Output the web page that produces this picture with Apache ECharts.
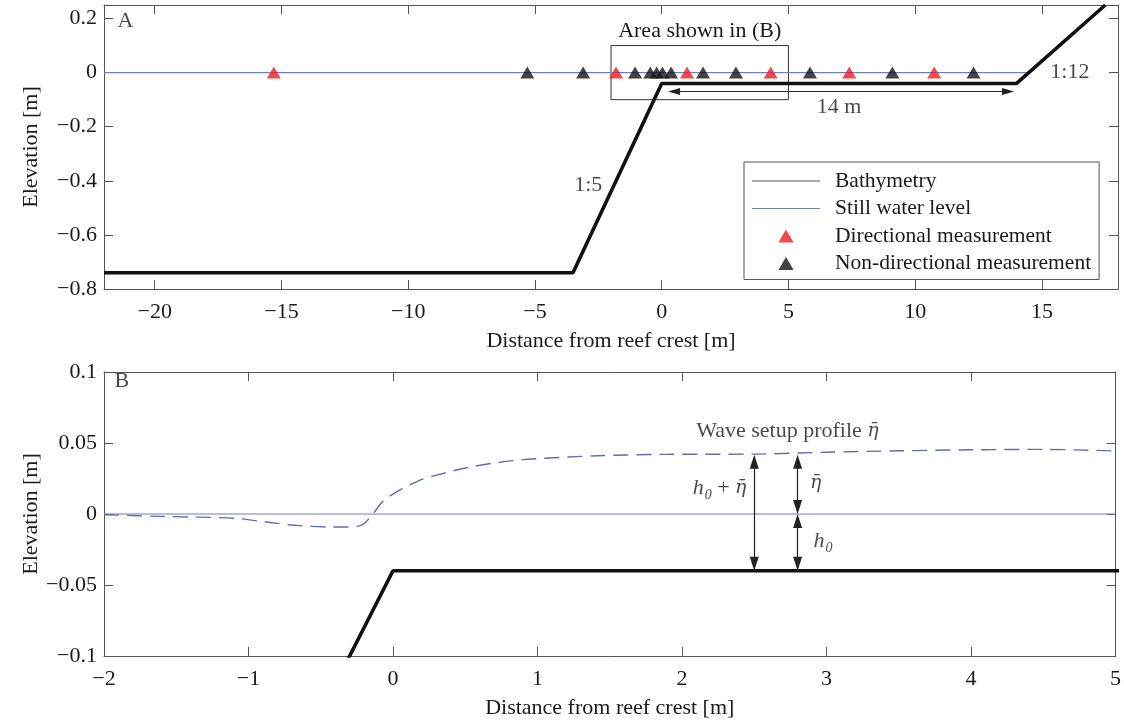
<!DOCTYPE html>
<html>
<head>
<meta charset="utf-8">
<script src="https://cdn.jsdelivr.net/npm/echarts@6/dist/echarts.min.js"></script>
<style>
html,body{margin:0;padding:0;background:#fff;}
#chart{width:1124px;height:720px;}
</style>
</head>
<body>
<div id="chart"></div>
<script>
// ---------- data ----------
const xTopTicks = [-20, -15, -10, -5, 0, 5, 10, 15];
const yTopTicks = [-0.8, -0.6, -0.4, -0.2, 0, 0.2];
const xBotTicks = [-2, -1, 0, 1, 2, 3, 4, 5];
const yBotTicks = [-0.1, -0.05, 0, 0.05, 0.1];

const bathyX = [-22, -3.5, 0, 14, 17.5];
const bathyY = [-0.74, -0.74, -0.04, -0.04, 0.25];

const swlTopX = [-22, 14.48];
const swlBotX = [-2, 5];

const directionalX = [-15.3, -1.8, 1.0, 4.3, 7.4, 10.75];
const nonDirectionalX = [-5.3, -3.1, -1.05, -0.45, -0.2, 0.03, 0.37, 1.63, 2.93, 5.85, 9.1, 12.3];

const setupX = [-2, -1.6, -1.1, -0.88, -0.65, -0.42, -0.3, -0.21, -0.14, -0.07, 0.04, 0.18, 0.27, 0.5, 0.73, 0.96, 1.42, 1.88, 2.5, 3.0, 3.5, 4.0, 4.5, 5.0];
const setupY = [-0.0005, -0.0017, -0.003, -0.0056, -0.0082, -0.0092, -0.0091, -0.0075, 0, 0.0089, 0.0165, 0.0235, 0.0265, 0.0324, 0.0363, 0.0387, 0.041, 0.042, 0.0422, 0.0435, 0.0445, 0.0452, 0.0455, 0.0444];

const h0 = -0.04;          // reef flat elevation
const etaAt = 0.0418;      // setup at arrows

// ---------- styling ----------
const FONT = 'Liberation Serif';
const FS = 22;
const AX = '#555';
const TXT = '#1a1a1a';
const BLUE = '#6f7fc2';
const DASH = '#5f6fae';

function fmt(v) {
  if (Math.abs(v) < 1e-9) return '0';
  const s = String(Math.abs(+(+v).toFixed(4)));
  return v < 0 ? '\u2212' + s : s;
}

function xAxisCfg(grid, min, max, ticks, pos, withLabels) {
  return {
    type: 'value', gridIndex: grid, min: min, max: max, position: pos,
    axisLine: {show: true, onZero: false, lineStyle: {color: AX, width: 1}},
    axisTick: {show: true, inside: true, length: 9, customValues: ticks, lineStyle: {color: AX}},
    axisLabel: {show: withLabels, customValues: ticks, formatter: fmt, margin: 12,
      fontFamily: FONT, fontSize: FS, color: TXT},
    splitLine: {show: false},
    name: withLabels ? 'Distance from reef crest [m]' : '',
    nameLocation: 'middle', nameGap: 41, nameMoveOverlap: false,
    nameTextStyle: {fontFamily: FONT, fontSize: FS, color: TXT}
  };
}
function yAxisCfg(grid, min, max, ticks, pos, withLabels) {
  return {
    type: 'value', gridIndex: grid, min: min, max: max, position: pos,
    axisLine: {show: true, onZero: false, lineStyle: {color: AX, width: 1}},
    axisTick: {show: true, inside: true, length: 9, customValues: ticks, lineStyle: {color: AX}},
    axisLabel: {show: withLabels, customValues: ticks, formatter: fmt, margin: 7,
      fontFamily: FONT, fontSize: FS, color: TXT},
    splitLine: {show: false},
    name: withLabels ? 'Elevation [m]' : '',
    nameLocation: 'middle', nameGap: 62, nameMoveOverlap: false,
    nameTextStyle: {fontFamily: FONT, fontSize: FS, color: TXT}
  };
}

const zip = (xs, ys) => xs.map((x, i) => [x, ys[i]]);
const txtLabel = {show: true, position: 'inside', fontFamily: FONT, fontSize: FS, color: TXT,
  formatter: p => p.name};

const ETA_FONT = 'DejaVu Serif';
const rich = {
  n: {fontFamily: FONT, fontSize: FS, color: TXT, lineHeight: 24, verticalAlign: 'top'},
  i: {fontFamily: FONT, fontSize: FS, color: TXT, fontStyle: 'italic', lineHeight: 24, verticalAlign: 'top'},
  e: {fontFamily: ETA_FONT, fontSize: 19, color: TXT, fontStyle: 'italic', lineHeight: 24, verticalAlign: 'top', padding: [1, 0, 0, 0]},
  s: {fontFamily: FONT, fontSize: 14, color: TXT, fontStyle: 'italic', lineHeight: 16, padding: [11, 0, 0, 1], verticalAlign: 'top'}
};

const arrowStyle = {color: '#222', width: 1.2, type: 'solid'};
const headPxBot = 7 / 1420;   // half arrow-head length in bottom-panel y units
const headPxTop = 6 / 25.33;  // half arrow-head length in top-panel x units

const TRI = 'path://M7,0L14,12L0,12Z';
const SEG = 'path://M0,0L68,0L68,1L0,1Z';

const option = {
  animation: false,
  backgroundColor: '#fff',
  grid: [
    {left: 104, top: 5, width: 1014, height: 284},
    {left: 104, top: 372, width: 1015, height: 284}
  ],
  xAxis: [
    xAxisCfg(0, -22, 18, xTopTicks, 'bottom', true),
    xAxisCfg(0, -22, 18, xTopTicks, 'top', false),
    xAxisCfg(1, -2, 5, xBotTicks, 'bottom', true),
    xAxisCfg(1, -2, 5, xBotTicks, 'top', false)
  ],
  yAxis: [
    yAxisCfg(0, -0.8, 0.25, yTopTicks, 'left', true),
    yAxisCfg(0, -0.8, 0.25, yTopTicks, 'right', false),
    yAxisCfg(1, -0.1, 0.1, yBotTicks, 'left', true),
    yAxisCfg(1, -0.1, 0.1, yBotTicks, 'right', false)
  ],
  legend: {
    left: 744, top: 162, orient: 'vertical',
    itemWidth: 68, itemHeight: 13, itemGap: 5.5,
    padding: [8, 8, 5, 8],
    symbolKeepAspect: true,
    borderColor: '#555', borderWidth: 1, backgroundColor: '#fff',
    textStyle: {fontFamily: FONT, fontSize: 21.5, color: TXT, padding: [0, 0, 0, 10]},
    data: [
      {name: 'Bathymetry', icon: SEG, itemStyle: {color: '#555'}, lineStyle: {width: 1, color: '#555'}},
      {name: 'Still water level', icon: SEG, itemStyle: {color: BLUE}, lineStyle: {width: 1, color: BLUE}},
      {name: 'Directional measurement', icon: TRI},
      {name: 'Non-directional measurement', icon: TRI}
    ]
  },
  series: [
    // ----- panel A -----
    {
      name: 'Still water level', type: 'line', xAxisIndex: 0, yAxisIndex: 0,
      data: swlTopX.map(x => [x, 0]), symbol: 'none', showSymbol: false,
      lineStyle: {color: BLUE, width: 1.2}, itemStyle: {color: BLUE}, z: 2
    },
    {
      name: 'Bathymetry', type: 'line', xAxisIndex: 0, yAxisIndex: 0,
      data: zip(bathyX, bathyY), symbol: 'none', showSymbol: false,
      lineStyle: {color: '#111', width: 3.6}, itemStyle: {color: '#111'}, z: 3,
      markArea: {
        silent: true,
        itemStyle: {color: 'rgba(0,0,0,0)', borderColor: '#333', borderWidth: 1},
        label: {show: true, position: 'top', distance: 3, fontFamily: FONT, fontSize: FS, color: TXT},
        data: [[{name: 'Area shown in (B)', coord: [-2, -0.1]}, {coord: [5, 0.1]}]]
      },
      markLine: {
        silent: true, symbol: ['triangle', 'triangle'], symbolSize: [7, 12],
        lineStyle: arrowStyle, label: {show: false},
        data: [[{coord: [0.25 + headPxTop, -0.07]}, {coord: [13.9 - headPxTop, -0.07]}]]
      }
    },
    {
      name: 'Non-directional measurement', type: 'scatter', xAxisIndex: 0, yAxisIndex: 0,
      data: nonDirectionalX.map(x => [x, 0]), symbol: 'triangle', symbolSize: [14, 12],
      itemStyle: {color: '#141414'}, z: 5
    },
    {
      name: 'Directional measurement', type: 'scatter', xAxisIndex: 0, yAxisIndex: 0,
      data: directionalX.map(x => [x, 0]), symbol: 'triangle', symbolSize: [14, 12],
      itemStyle: {color: '#ec1c24'}, z: 6
    },
    {
      name: 'textA', type: 'scatter', xAxisIndex: 0, yAxisIndex: 0, symbolSize: 0,
      itemStyle: {color: 'rgba(0,0,0,0)'}, label: txtLabel, silent: true, z: 7,
      data: [
        {name: 'A', value: [-21.15, 0.19]},
        {name: '1:5', value: [-2.9, -0.415]},
        {name: '1:12', value: [16.1, 0.0]},
        {name: '14 m', value: [7, -0.127]}
      ]
    },
    // ----- panel B -----
    {
      name: 'Still water level', type: 'line', xAxisIndex: 2, yAxisIndex: 2,
      data: swlBotX.map(x => [x, 0]), symbol: 'none', showSymbol: false,
      lineStyle: {color: BLUE, width: 1.2}, itemStyle: {color: BLUE}, z: 2
    },
    {
      name: 'Bathymetry', type: 'line', xAxisIndex: 2, yAxisIndex: 2,
      data: zip(bathyX, bathyY), symbol: 'none', showSymbol: false, clip: true,
      lineStyle: {color: '#111', width: 3.6}, itemStyle: {color: '#111'}, z: 3
    },
    {
      name: 'Wave setup profile', type: 'line', xAxisIndex: 2, yAxisIndex: 2,
      data: zip(setupX, setupY), symbol: 'none', showSymbol: false, smooth: 0.3,
      lineStyle: {color: DASH, width: 1.4, type: [15, 8]}, z: 4,
      markLine: {
        silent: true, symbol: ['triangle', 'triangle'], symbolSize: [9, 14],
        lineStyle: arrowStyle, label: {show: false},
        data: [
          [{coord: [2.5, h0 + headPxBot]}, {coord: [2.5, etaAt - headPxBot]}],
          [{coord: [2.8, 0 + headPxBot]}, {coord: [2.8, etaAt - headPxBot]}],
          [{coord: [2.8, h0 + headPxBot]}, {coord: [2.8, 0 - headPxBot]}]
        ]
      }
    },
    {
      name: 'textB', type: 'scatter', xAxisIndex: 2, yAxisIndex: 2, symbolSize: 0,
      itemStyle: {color: 'rgba(0,0,0,0)'}, silent: true, z: 7,
      label: {show: true, position: 'inside', rich: rich, formatter: p => p.data.t},
      data: [
        {name: 'B', t: '{n|B}', value: [-1.876, 0.093]},
        {name: 'setup', t: '{n|Wave setup profile }{e|\u03B7\u0304}', value: [2.73, 0.0575]},
        {name: 'h0eta', t: '{i|h}{s|0}{n| + }{e|\u03B7\u0304}', value: [2.26, 0.0175]},
        {name: 'eta', t: '{e|\u03B7\u0304}', value: [2.925, 0.021]},
        {name: 'h0', t: '{i|h}{s|0}', value: [2.975, -0.02]}
      ]
    }
  ]
};

const chart = echarts.init(document.getElementById('chart'), null, {renderer: 'canvas'});
chart.setOption(option);
</script>
</body>
</html>
